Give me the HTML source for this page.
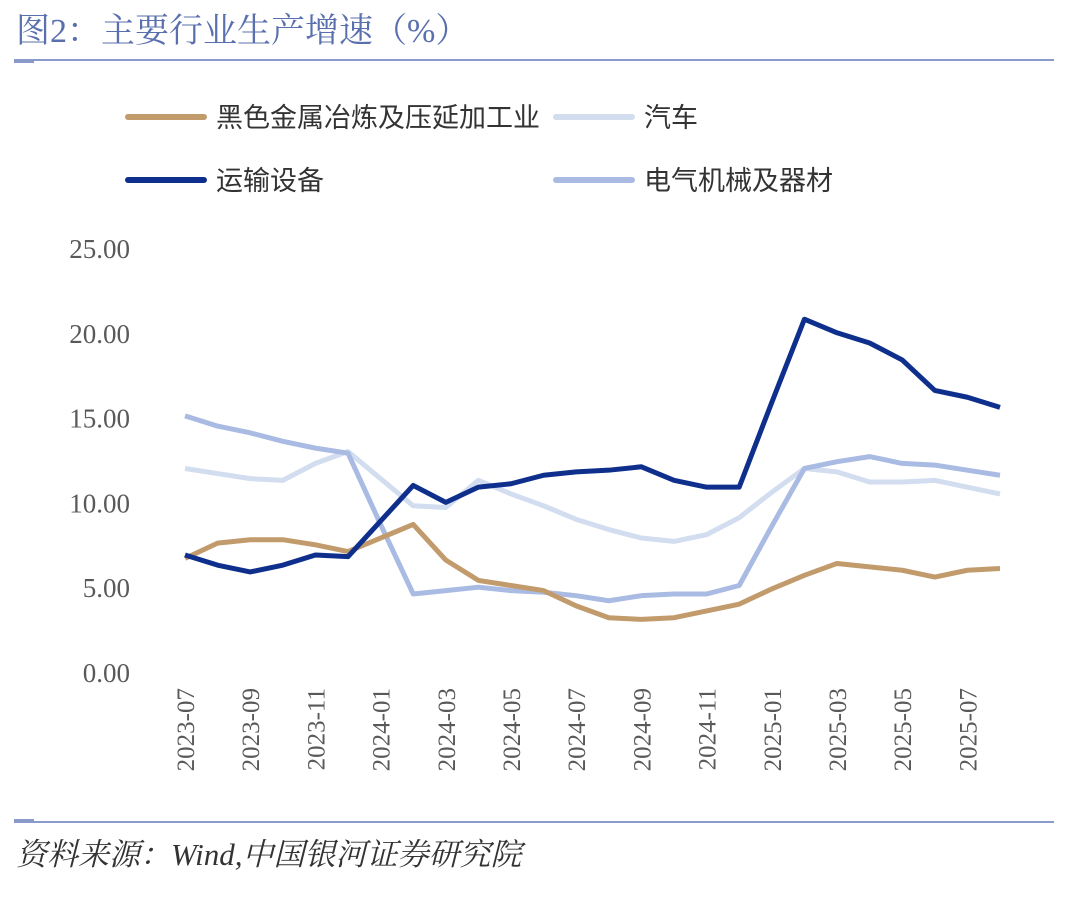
<!DOCTYPE html>
<html><head><meta charset="utf-8">
<style>
body{margin:0;background:#fff;width:1080px;height:897px;overflow:hidden;font-family:"Liberation Serif","Noto Serif CJK SC",serif;}
</style></head>
<body>
<svg width="1080" height="897" xmlns="http://www.w3.org/2000/svg">
<text x="16" y="42" font-size="34" fill="#5a6fae" font-family="Liberation Serif, Noto Serif CJK SC, serif">图2：主要行业生产增速（%）</text>
<line x1="14" y1="60" x2="1054" y2="60" stroke="#8a9acb" stroke-width="2"/>
<line x1="14" y1="62" x2="34" y2="62" stroke="#8a9acb" stroke-width="2"/>
<line x1="14" y1="822" x2="1054" y2="822" stroke="#8a9acb" stroke-width="2"/>
<line x1="14" y1="820" x2="34" y2="820" stroke="#8a9acb" stroke-width="2"/>
<text x="16" y="865" font-size="31" font-style="italic" fill="#333">资料来源：Wind,中国银河证券研究院</text>
<g id="legend"></g>
<g id="axes"></g>
<g id="plot"></g>
</svg>
<script>
const categories = ["2023-07","2023-08","2023-09","2023-10","2023-11","2023-12","2024-01","2024-02","2024-03","2024-04","2024-05","2024-06","2024-07","2024-08","2024-09","2024-10","2024-11","2024-12","2025-01","2025-02","2025-03","2025-04","2025-05","2025-06","2025-07","2025-08"];
const ferrous = [6.7,7.6,7.8,7.8,7.5,7.1,7.9,8.7,6.6,5.4,5.1,4.8,3.9,3.2,3.1,3.2,3.6,4.0,4.9,5.7,6.4,6.2,6.0,5.6,6.0,6.1];
const auto = [12.0,11.7,11.4,11.3,12.3,13.0,11.4,9.8,9.7,11.3,10.5,9.8,9.0,8.4,7.9,7.7,8.1,9.1,10.6,12.0,11.8,11.2,11.2,11.3,10.9,10.5];
const transport = [6.9,6.3,5.9,6.3,6.9,6.8,8.9,11.0,10.0,10.9,11.1,11.6,11.8,11.9,12.1,11.3,10.9,10.9,15.9,20.8,20.0,19.4,18.4,16.6,16.2,15.6];
const electrical = [15.1,14.5,14.1,13.6,13.2,12.9,8.7,4.6,4.8,5.0,4.8,4.7,4.5,4.2,4.5,4.6,4.6,5.1,8.6,12.0,12.4,12.7,12.3,12.2,11.9,11.6];
const yTicks = [0,5,10,15,20,25];
const seriesNames = ["黑色金属冶炼及压延加工业","汽车","运输设备","电气机械及器材"];

const NS="http://www.w3.org/2000/svg";
const x0=185, dx=32.6, y0=672, ppu=16.96;
const X=i=>x0+i*dx, Y=v=>y0-v*ppu;
function mk(tag,attrs,parent){const e=document.createElementNS(NS,tag);for(const k in attrs)e.setAttribute(k,attrs[k]);parent.appendChild(e);return e;}
const axes=document.getElementById('axes'), plot=document.getElementById('plot'), legend=document.getElementById('legend');
yTicks.forEach(v=>{
  const t=mk('text',{x:130,y:Y(v)+10,'font-size':27,fill:'#595959','text-anchor':'end'},axes);
  
  
  t.textContent=v.toFixed(2);
});
categories.forEach((c,i)=>{
  if(i%2) return;
  const t=mk('text',{x:0,y:0,'font-size':25,fill:'#595959','text-anchor':'end',transform:`translate(${X(i)+9},${688}) rotate(-90)`},axes);
  
  
  t.textContent=c;
});
const series=[[auto,'#d3ddf0'],[electrical,'#a9bbe3'],[ferrous,'#c29b6c'],[transport,'#0f2f8c']];
const sNames=['series-auto','series-electrical','series-ferrous','series-transport'];
series.forEach(([d,col],k)=>{
  const p=mk('polyline',{points:d.map((v,i)=>X(i)+','+Y(v)).join(' '),fill:'none',stroke:col,'stroke-width':5,'stroke-linejoin':'round'},plot);
  
  
});
const leg=[[seriesNames[0],'#c29b6c',128,117],[seriesNames[1],'#d3ddf0',556,117],[seriesNames[2],'#0f2f8c',128,180],[seriesNames[3],'#a9bbe3',556,180]];
leg.forEach(([n,col,x,y])=>{
  const l=mk('line',{x1:x,y1:y,x2:x+76,y2:y,stroke:col,'stroke-width':6,'stroke-linecap':'round'},legend);
  
  
  const t=mk('text',{x:x+88,y:y+10,'font-size':27,fill:'#333','font-family':'Liberation Sans, Noto Sans CJK SC, sans-serif'},legend);
  
  
  t.textContent=n;
});
</script>
</body></html>
